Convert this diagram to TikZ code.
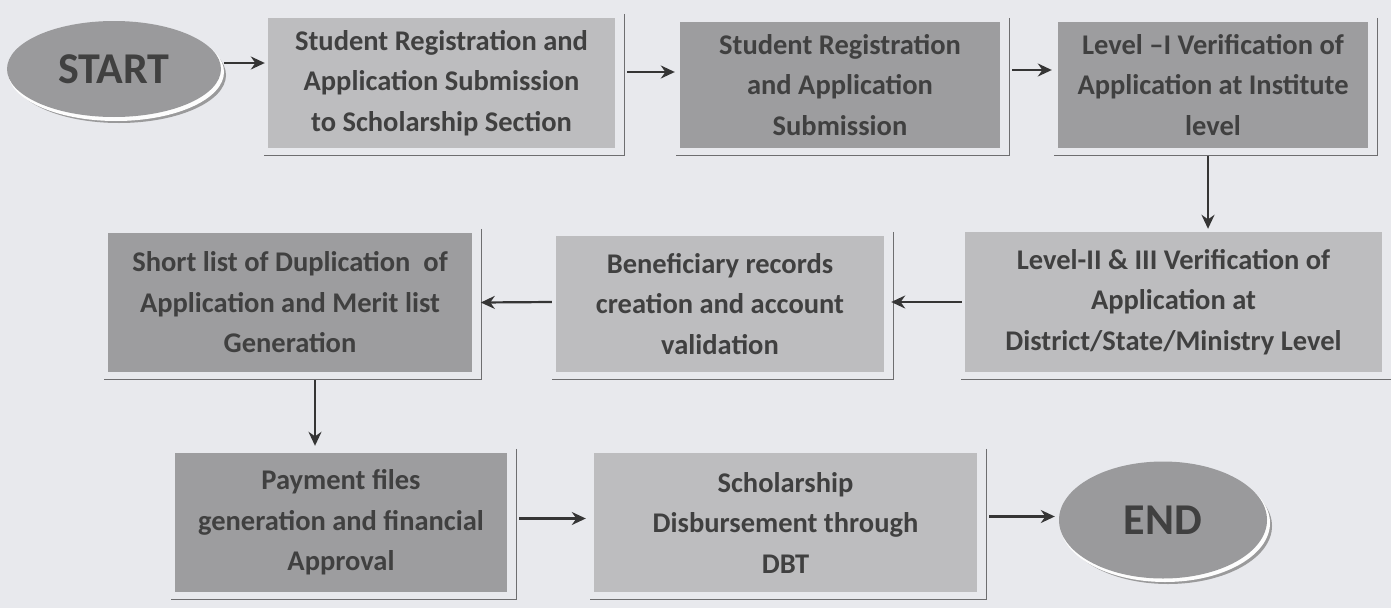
\documentclass[tikz,border=0pt]{standalone}
\usepackage{fontspec}
\setmainfont{Carlito}
\usetikzlibrary{arrows.meta,shapes.geometric,calc}
\definecolor{bgc}{HTML}{E8E9ED}
\definecolor{lightbox}{HTML}{BDBDBF}
\definecolor{darkbox}{HTML}{9D9D9F}
\definecolor{ovalc}{HTML}{9A9A9C}
\definecolor{txt}{HTML}{404040}
\definecolor{framec}{HTML}{6E6E70}
\definecolor{arrc}{HTML}{353535}
\begin{document}
\begin{tikzpicture}[x=1pt,y=-1pt,
  boxbase/.style={rectangle,draw=none,text=txt,align=center,inner sep=0pt,
    font=\bfseries\fontsize{28.5}{40.5}\selectfont},
  lbox/.style={boxbase,fill=lightbox},
  dbox/.style={boxbase,fill=darkbox},
  oval/.style={ellipse,fill=ovalc,text=txt,inner sep=0pt,
    font=\bfseries\fontsize{44}{48}\selectfont},
  frameline/.style={draw=framec,line width=1.2pt},
  arr/.style={draw=arrc,line width=2.2pt,-{Stealth[length=14pt,width=13pt]}}]
\fill[bgc] (0,0) rectangle (1391,608);
\useasboundingbox (0,0) rectangle (1391,608);

% ovals with shadows
\fill[framec!70] (119,75) ellipse (107 and 48);
\fill[white!90!bgc] (116,72) ellipse (108 and 49);
\node[oval,minimum width=214pt,minimum height=96pt] (start) at (114,69) {START};

\fill[framec!70] (1168,526) ellipse (104 and 58);
\fill[white!90!bgc] (1165,523) ellipse (105 and 59);
\node[oval,minimum width=208pt,minimum height=117pt] (end) at (1163,520) {END};

% boxes
\node[lbox,minimum width=347pt,minimum height=130pt] (b1) at (441.5,83) {Student Registration and\\Application Submission\\to Scholarship Section};
\node[dbox,minimum width=320pt,minimum height=126pt] (b2) at (840,85) {Student Registration\\and Application\\Submission};
\node[dbox,minimum width=310pt,minimum height=126pt] (b3) at (1213,85) {Level --I Verification of\\Application at Institute\\level};
\node[lbox,minimum width=417pt,minimum height=140pt] (b4) at (1173.5,302) {Level-II \& III Verification of\\Application at\\District/State/Ministry Level};
\node[lbox,minimum width=328pt,minimum height=136pt] (b5) at (720,304) {Beneficiary records\\creation and account\\validation};
\node[dbox,minimum width=364pt,minimum height=139pt] (b6) at (290,302.5) {Short list of Duplication~ of\\Application and Merit list\\Generation};
\node[dbox,minimum width=332pt,minimum height=139pt] (b7) at (341,522.5) {Payment files\\generation and financial\\Approval};
\node[lbox,minimum width=383pt,minimum height=139pt] (b8) at (785.5,522.5) {Scholarship\\Disbursement through\\DBT};

% frame lines
\foreach \n in {b1,b2,b3,b4,b5,b6,b7,b8}{
  \draw[frameline] ($(\n.north east)+(9,-4)$) -- ($(\n.south east)+(9,7)$) -- ($(\n.south west)+(-4,7)$);
}

% connectors
\draw[arr] ($(start.east)+(3,-6)$) -- ($(b1.west)+(-3,-20)$);
\draw[arr] ($(b1.east)+(12,-11)$) -- ($(b2.west)+(-5,-13)$);
\draw[arr] ($(b2.east)+(12,-15)$) -- ($(b3.west)+(-6,-15)$);
\draw[arr] ($(b3.south)+(-5,8)$) -- ($(b4.north)+(34.5,-3)$);
\draw[arr] ($(b4.west)+(-3,0)$) -- ($(b5.east)+(7,-2)$);
\draw[arr] ($(b5.west)+(-4,-2)$) -- ($(b6.west)+(373,0)$);
\draw[arr] ($(b6.south)+(25,8)$) -- ($(b7.north)+(-26,-7)$);
\draw[arr] ($(b7.east)+(12,-4)$) -- ($(b8.west)+(-8,-4)$);
\draw[arr] ($(b8.east)+(12,-6)$) -- ($(end.west)+(-4,-3.5)$);
\end{tikzpicture}
\end{document}
